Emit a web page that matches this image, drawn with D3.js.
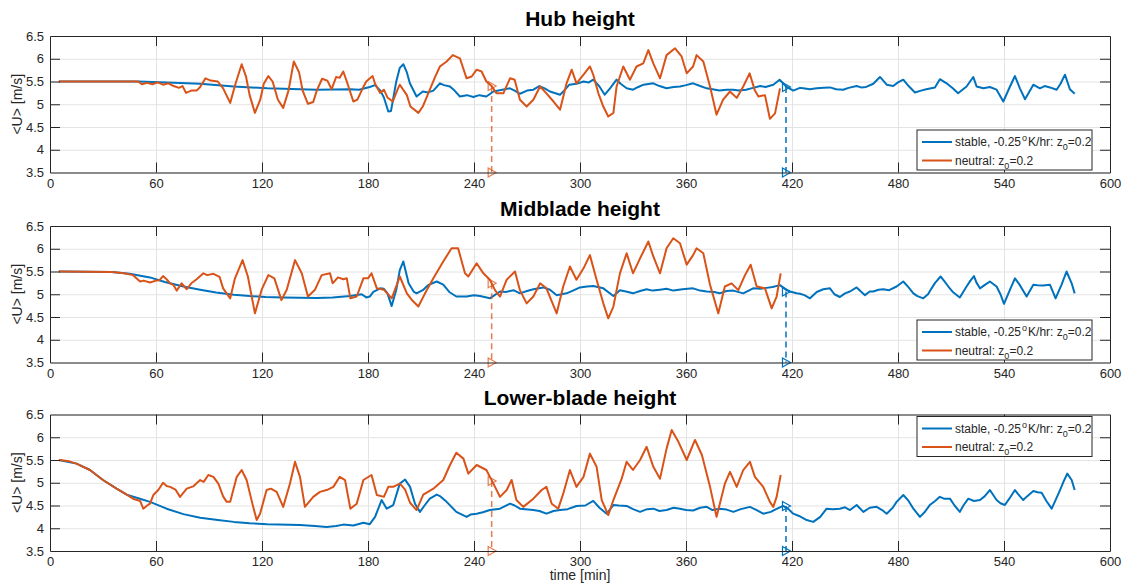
<!DOCTYPE html>
<html>
<head>
<meta charset="utf-8">
<script src="https://cdn.jsdelivr.net/npm/d3@7"></script>
<style>
    body { margin: 0; background: #fff; }
    svg text { font-family: "Liberation Sans", Arial, Helvetica, sans-serif; fill: #262626; }
</style>
</head>
<body>
<svg id="chart" width="1126" height="586"></svg>
<script>
// Values: [time (min), <U> (m/s)]
const titles = ['Hub height', 'Midblade height', 'Lower-blade height'];
const xTicks = [0, 60, 120, 180, 240, 300, 360, 420, 480, 540, 600];
const yTicks = [3.5, 4, 4.5, 5, 5.5, 6, 6.5];
const yTickLabels = ['3.5', '4', '4.5', '5', '5.5', '6', '6.5'];

const hubStable = [[5,5.5],[50,5.5],[70,5.47],[85,5.45],[104,5.39],[123,5.35],[151,5.32],[170,5.33],[175,5.32],[181,5.38],[184,5.42],[187,5.3],[189,5.15],[191.5,4.84],[193,4.85],[196,5.5],[198,5.8],[200,5.88],[202,5.7],[203.7,5.46],[207.5,5.17],[211,5.28],[214,5.26],[217,5.3],[220.7,5.46],[223,5.42],[226.4,5.39],[229,5.3],[232,5.17],[236,5.2],[239.6,5.16],[243,5.2],[247,5.17],[251,5.28],[256,5.32],[260.4,5.35],[263,5.3],[266,5.23],[270,5.3],[273.6,5.32],[277,5.4],[280,5.35],[283,5.28],[288.7,5.21],[291,5.3],[294,5.43],[298,5.45],[302,5.5],[305,5.48],[307.5,5.54],[311,5.39],[314,5.21],[317,5.35],[320.7,5.54],[323,5.45],[326.4,5.35],[330,5.32],[333,5.38],[336,5.43],[341.5,5.46],[345,5.4],[349,5.35],[353,5.38],[356.6,5.39],[360,5.42],[364,5.46],[368,5.4],[371.7,5.35],[375,5.33],[379,5.3],[383,5.32],[386.8,5.32],[390,5.3],[394,5.32],[398,5.36],[402,5.4],[405,5.38],[409.4,5.43],[413,5.54],[417,5.38],[420.7,5.3],[424.5,5.36],[426.4,5.35],[430,5.33],[434,5.35],[438,5.36],[441.5,5.37],[445,5.33],[449,5.32],[452,5.36],[456.6,5.4],[459,5.37],[462,5.38],[466,5.45],[469.8,5.6],[473.6,5.43],[477.3,5.4],[480,5.48],[483,5.54],[486,5.4],[489.6,5.26],[493,5.3],[496,5.33],[500.9,5.37],[503.7,5.55],[507.5,5.46],[511,5.35],[514,5.24],[518.8,5.39],[522.6,5.6],[524.5,5.39],[528.3,5.35],[532,5.38],[535.8,5.32],[539.6,5.06],[543.4,5.39],[546.2,5.62],[549,5.35],[551.9,5.11],[556.6,5.43],[560.3,5.35],[563,5.4],[566,5.37],[569.8,5.32],[572,5.45],[574.5,5.65],[577.3,5.33],[580,5.23]];

const hubNeutral = [[5,5.5],[50,5.5],[52,5.44],[55,5.47],[58,5.44],[61,5.48],[64,5.43],[67,5.46],[70,5.4],[73,5.36],[75,5.4],[77,5.25],[80,5.3],[83,5.3],[85,5.38],[88,5.57],[91,5.52],[95,5.5],[98,5.35],[102,5.03],[105,5.45],[108.5,5.88],[111,5.6],[113,5.2],[116,4.81],[119,5.1],[121,5.45],[123.6,5.62],[126,5.5],[129,5.1],[132,4.92],[135,5.3],[138,5.94],[141,5.7],[143,5.3],[146,5.01],[149,5.05],[151,5.3],[154,5.56],[157,5.52],[159.4,5.33],[162,5.6],[164,5.58],[166,5.72],[168,5.5],[171.7,5.06],[174,5.1],[177,5.35],[179,5.5],[182.6,5.62],[184,5.45],[186.8,5.25],[189,5.32],[191,5.15],[194,5.06],[197,5.35],[198,5.43],[202,5.2],[204,4.95],[208.5,4.81],[211,4.95],[215,5.32],[218,5.6],[220.7,5.83],[224.5,5.94],[228,6.08],[232,6.01],[235.8,5.57],[238.7,5.61],[241.5,5.76],[244.3,5.72],[247,5.5],[250,5.4],[252.8,5.24],[256.6,5.24],[260.4,5.57],[263,5.54],[266,5.1],[269.8,4.95],[273.6,5.1],[277.4,5.39],[281,5.24],[285,5.06],[288.7,4.88],[292.4,5.46],[295.3,5.76],[298,5.46],[302,5.65],[305.6,5.83],[307.5,5.65],[310.4,5.24],[313.2,4.95],[316,4.73],[318.9,4.81],[320.7,5.39],[324.5,5.83],[328.3,5.54],[332,5.83],[335.8,5.9],[338.7,6.19],[341.5,5.9],[345.3,5.57],[349,6.08],[353.8,6.23],[357.5,6.05],[360.4,5.68],[364,5.83],[366,6.08],[369.8,5.94],[373.6,5.39],[377.3,4.77],[381,5.1],[384.9,5.28],[388.7,5.14],[392.4,5.39],[396,5.68],[399,5.3],[401,5.17],[404.7,5.2],[407.5,4.68],[410.4,4.8],[413.2,5.35]];

const midStable = [[5,5.5],[35,5.49],[45,5.45],[56.6,5.37],[65,5.27],[75.5,5.17],[85,5.1],[94,5.04],[104,4.99],[113,4.96],[122,4.94],[132,4.93],[151,4.92],[160,4.93],[170,4.96],[176.4,5.0],[179,4.93],[181,4.95],[183,5.05],[187,5.13],[189,5.12],[191,5.02],[193.4,4.74],[196,5.1],[198,5.53],[200,5.72],[203,5.24],[206,5.05],[207.5,5.02],[211,5.09],[214,5.2],[218.9,5.28],[222.6,5.21],[226,5.05],[230,4.95],[235.8,4.95],[240,4.98],[243.4,4.96],[249,4.91],[254.7,5.06],[258,5.05],[262.3,5.09],[266,5.02],[270,5.07],[273.6,5.11],[279.2,5.15],[283,5.1],[286.8,4.98],[292.4,5.02],[296,5.08],[300,5.15],[304,5.17],[307.5,5.18],[313.2,5.13],[318.9,4.96],[322.6,5.09],[326,5.06],[330,5.02],[334,5.07],[337.7,5.11],[341,5.08],[345.3,5.1],[349,5.12],[352.8,5.08],[358,5.11],[364,5.13],[368,5.08],[371.7,5.06],[376,5.05],[379,5.02],[383,5.07],[386.8,5.08],[392.4,5.02],[398,5.13],[402,5.12],[405.6,5.14],[409,5.16],[413.2,5.2],[417,5.09],[418.8,5.06],[422.6,5.02],[424.5,5.01],[427,4.98],[430.2,4.91],[434,5.05],[437.7,5.11],[441.5,5.13],[444,5.0],[447.1,4.94],[450,5.02],[452.8,5.06],[456.6,5.15],[459,5.06],[461.3,4.98],[464,5.06],[466,5.06],[469,5.1],[471.7,5.11],[475,5.09],[479.2,5.17],[483,5.28],[486,5.15],[488.7,5.02],[491,4.96],[494.3,4.91],[497,5.0],[499,5.13],[501,5.25],[504.1,5.39],[506,5.3],[508.5,5.17],[511,5.05],[515,4.93],[518.8,5.17],[521,5.3],[523,5.4],[524.5,5.25],[526.4,5.13],[529,5.2],[532,5.28],[535.8,5.17],[538,5.0],[540,4.79],[543.4,5.1],[546.2,5.35],[549,5.2],[552.8,4.95],[556.6,5.21],[559,5.2],[562.2,5.19],[566,5.21],[569.2,4.91],[572.6,5.21],[575.4,5.5],[578.3,5.24],[580,5.02]];

const midNeutral = [[5,5.5],[35,5.49],[42,5.46],[47,5.42],[51,5.28],[53,5.3],[56.6,5.26],[60,5.3],[62,5.31],[64,5.4],[66,5.33],[68,5.24],[70,5.2],[71.7,5.08],[74.5,5.24],[77.4,5.11],[80,5.24],[83,5.33],[86.8,5.46],[89,5.42],[92.5,5.45],[96,5.38],[98,5.13],[102,4.91],[104.7,5.35],[109,5.75],[112,5.39],[116,4.58],[119.8,5.1],[123.6,5.42],[127,5.35],[131,4.87],[134,5.1],[138.7,5.75],[142.5,5.46],[146,4.95],[150,5.1],[153.8,5.42],[158.5,5.46],[160,5.24],[163,5.37],[166,5.33],[168,5.35],[170,4.91],[173.6,4.95],[177.4,5.35],[180,5.35],[182,5.46],[185,5.13],[189,5.1],[193.4,4.91],[197,5.28],[198,5.39],[202,5.02],[204.7,4.88],[208.5,4.73],[212.3,5.02],[217,5.35],[222.6,5.72],[227.3,6.01],[231,6.01],[234.9,5.46],[236.8,5.39],[241.5,5.68],[245.3,5.46],[249,5.32],[251.9,5.09],[254.7,4.95],[258.5,5.32],[263.2,5.5],[266,5.09],[269.8,4.8],[273.6,4.95],[277.4,5.24],[281,5.13],[286.8,4.58],[290.5,5.17],[294.3,5.61],[298,5.32],[302,5.57],[305.6,5.86],[309.4,5.32],[313.2,4.8],[316,4.47],[318.9,4.73],[322.6,5.46],[326.4,5.9],[330,5.46],[334,5.79],[338.7,6.16],[341.5,5.83],[345.3,5.46],[349,6.01],[352.8,6.23],[356.6,6.12],[360.4,5.65],[364,5.86],[366,6.01],[369.8,5.9],[373.6,5.21],[378.3,4.58],[382,5.17],[385.8,5.24],[389.6,5.09],[393.4,5.42],[396.6,5.65],[400,5.17],[404.7,5.13],[408.5,4.69],[411.3,4.95],[413.6,5.46]];

const lowStable = [[5,5.5],[15,5.42],[22.6,5.28],[30,5.06],[37.7,4.87],[43.4,4.74],[50,4.66],[56.6,4.58],[66,4.43],[75.5,4.31],[85,4.23],[95,4.18],[104,4.14],[113,4.11],[123,4.09],[141.5,4.07],[150,4.05],[156.6,4.03],[162,4.05],[166,4.08],[171.7,4.06],[177.4,4.12],[181,4.09],[184,4.25],[187.7,4.62],[190.6,4.43],[194.3,4.51],[198,4.98],[201,5.07],[203.8,4.91],[206.6,4.54],[209.4,4.36],[212,4.5],[215,4.65],[218.9,4.74],[221,4.7],[224.5,4.58],[230,4.36],[235.8,4.25],[238,4.3],[241.5,4.32],[245,4.35],[249,4.4],[254.7,4.43],[260.4,4.54],[263,4.5],[266,4.43],[273.6,4.4],[277,4.38],[281,4.32],[285,4.38],[288.7,4.4],[293,4.42],[298,4.49],[303,4.5],[307.5,4.6],[311,4.45],[315.1,4.32],[318.9,4.51],[322,4.5],[326.4,4.49],[330,4.42],[334,4.36],[338,4.42],[341.5,4.43],[345,4.38],[349,4.4],[353,4.45],[356.6,4.43],[360,4.4],[364,4.39],[368,4.45],[371.7,4.47],[375,4.4],[379,4.43],[383,4.41],[386.8,4.36],[391,4.42],[396.2,4.47],[400,4.4],[403.7,4.32],[408,4.36],[411,4.42],[415,4.49],[418,4.42],[420.7,4.32],[424,4.27],[428.3,4.18],[432,4.14],[436,4.25],[439.6,4.43],[443,4.42],[447.1,4.43],[450,4.46],[452.8,4.4],[456.6,4.51],[460.4,4.36],[464,4.45],[467.9,4.47],[471,4.4],[473.6,4.32],[477,4.45],[479.2,4.58],[483,4.73],[486,4.6],[488.7,4.43],[492.4,4.25],[495,4.35],[498,4.51],[501,4.6],[503.7,4.69],[506,4.65],[509.4,4.65],[512,4.5],[515,4.36],[517,4.5],[519.8,4.65],[523,4.6],[526.4,4.62],[529,4.7],[532,4.84],[535.8,4.62],[538,4.55],[540.5,4.51],[543,4.65],[546.2,4.84],[548,4.75],[550.9,4.62],[553,4.7],[556.6,4.82],[559,4.79],[561.3,4.78],[564,4.6],[567,4.43],[569,4.6],[571.7,4.84],[574,5.05],[575.8,5.2],[578.3,5.06],[580,4.84]];

const lowNeutral = [[5,5.5],[10,5.48],[15,5.42],[22.6,5.28],[30,5.06],[37.7,4.87],[43.4,4.74],[47,4.65],[51,4.6],[52.8,4.43],[55,4.5],[56.6,4.54],[58.5,4.73],[61.3,4.84],[64,5.0],[66,4.93],[68,4.91],[71,4.85],[73.6,4.69],[77.4,4.87],[81,4.92],[85,5.06],[87,5.02],[89.6,5.17],[92.5,5.13],[95.3,4.98],[98,4.7],[100,4.58],[102,4.58],[105.7,5.13],[108.5,5.28],[111.3,5.06],[115,4.47],[117,4.18],[118.9,4.32],[122.6,4.84],[125,4.87],[128.3,4.8],[132,4.47],[135.8,4.98],[138.7,5.46],[141.5,5.13],[144.3,4.47],[149,4.69],[152.8,4.8],[156.6,4.84],[160.4,4.91],[164,5.13],[167,5.06],[170,4.43],[173.6,4.54],[177.4,5.06],[182,5.17],[185,4.73],[189,4.69],[191.5,4.91],[194.3,4.91],[198,4.98],[201,4.85],[203.8,4.56],[207.5,4.4],[211.3,4.74],[217,4.87],[222.6,5.06],[226.4,5.39],[230,5.66],[234,5.53],[236.8,5.2],[241.5,5.39],[247,5.28],[251,4.98],[254.7,4.69],[258.5,4.84],[261.3,5.06],[264,4.62],[267.9,4.47],[273.6,4.65],[278.3,4.84],[281,4.91],[284,4.54],[287.7,4.43],[290.5,4.76],[294.3,5.28],[298,4.91],[302,5.13],[305.6,5.64],[309.4,5.35],[312.3,4.62],[316,4.29],[318.9,4.62],[323.6,5.09],[326.4,5.46],[330,5.28],[334,5.5],[337.7,5.79],[341.5,5.35],[345.3,5.09],[349,5.75],[351.9,6.16],[355.7,5.9],[360.4,5.5],[365.1,5.94],[369,5.61],[373.6,4.91],[377.3,4.25],[382,4.98],[384.9,5.24],[388.7,4.91],[392.4,5.28],[396.2,5.46],[399,5.13],[403.7,4.91],[407.5,4.58],[409.4,4.47],[411.3,4.69],[413.6,5.17]];

// vertical drop markers: [neutral, stable] times and the <U> at the top of each drop
const dropTimes = [250, 416.6];
const neutralDropU = [5.4, 5.24, 5.04];
const stableDropU = [5.38, 5.06, 4.49];

const stableSeries = [hubStable, midStable, lowStable];
const neutralSeries = [hubNeutral, midNeutral, lowNeutral];

const BLUE = '#0072BD';
const ORANGE = '#D95319';
const AXIS = '#262626';

const plotLeft = 50, plotRight = 1110, plotH = 136.5;
const panelTops = [36, 226, 414.5];
const legendTops = [130, 320, 416.5];
const legendLeft = 917, legendW = 175, legendH = 40;

const svg = d3.select('#chart');
const x = d3.scaleLinear().domain([0, 600]).range([plotLeft, plotRight]);

function drawPanel(i) {
    const top = panelTops[i];
    const bottom = top + plotH;
    const y = d3.scaleLinear().domain([3.5, 6.5]).range([bottom, top]);
    const g = svg.append('g').attr('class', 'panel');

    // grid
    g.append('g')
        .attr('transform', `translate(0,${bottom})`)
        .call(d3.axisBottom(x).tickValues(xTicks).tickSize(-plotH).tickFormat(''))
        .call(s => s.select('.domain').remove())
        .selectAll('line').attr('stroke', '#e3e3e3').attr('stroke-width', 1);
    g.append('g')
        .attr('transform', `translate(${plotLeft},0)`)
        .call(d3.axisLeft(y).tickValues(yTicks).tickSize(-(plotRight - plotLeft)).tickFormat(''))
        .call(s => s.select('.domain').remove())
        .selectAll('line').attr('stroke', '#e3e3e3').attr('stroke-width', 1);

    // data lines
    const line = d3.line().x(d => x(d[0])).y(d => y(d[1]));
    g.append('path').datum(stableSeries[i])
        .attr('d', line).attr('fill', 'none')
        .attr('stroke', BLUE).attr('stroke-width', 2).attr('stroke-linejoin', 'round');
    g.append('path').datum(neutralSeries[i])
        .attr('d', line).attr('fill', 'none')
        .attr('stroke', ORANGE).attr('stroke-width', 2).attr('stroke-linejoin', 'round');

    // drop markers
    const drops = [
        { t: dropTimes[0], u: neutralDropU[i], color: ORANGE, op: 0.75 },
        { t: dropTimes[1], u: stableDropU[i], color: BLUE, op: 1 }
    ];
    const tri = 'M-3.5,-4.5L4.5,0L-3.5,4.5Z';
    drops.forEach(d => {
        g.append('line')
            .attr('x1', x(d.t)).attr('x2', x(d.t))
            .attr('y1', y(d.u)).attr('y2', y(3.5))
            .attr('stroke', d.color).attr('stroke-opacity', d.op)
            .attr('stroke-width', 1.5).attr('stroke-dasharray', '6,4');
        [d.u, 3.5].forEach(v => {
            g.append('path').attr('d', tri)
                .attr('transform', `translate(${x(d.t)},${y(v)})`)
                .attr('fill', 'none').attr('stroke', d.color)
                .attr('stroke-opacity', d.op).attr('stroke-width', 1.2);
        });
    });

    // axes with inward ticks on all four sides
    const bottomAxis = g.append('g').attr('transform', `translate(0,${bottom})`)
        .call(d3.axisBottom(x).tickValues(xTicks).tickSizeInner(-10).tickSizeOuter(0).tickPadding(6));
    const topAxis = g.append('g').attr('transform', `translate(0,${top})`)
        .call(d3.axisTop(x).tickValues(xTicks).tickSizeInner(-10).tickSizeOuter(0).tickFormat(''));
    const leftAxis = g.append('g').attr('transform', `translate(${plotLeft},0)`)
        .call(d3.axisLeft(y).tickValues(yTicks).tickSizeInner(-10).tickSizeOuter(0).tickPadding(6)
            .tickFormat((d, k) => yTickLabels[k]));
    const rightAxis = g.append('g').attr('transform', `translate(${plotRight},0)`)
        .call(d3.axisRight(y).tickValues(yTicks).tickSizeInner(-10).tickSizeOuter(0).tickFormat(''));
    [bottomAxis, topAxis, leftAxis, rightAxis].forEach(a => {
        a.selectAll('line').attr('stroke', AXIS);
        a.select('.domain').attr('stroke', AXIS);
        a.selectAll('text').attr('font-size', 13).style('fill', AXIS);
    });
    // edge ticks at the corners look doubled in matlab; drop first/last grid ticks
    bottomAxis.selectAll('.tick line').filter(d => d === 0 || d === 600).remove();
    topAxis.selectAll('.tick line').filter(d => d === 0 || d === 600).remove();
    leftAxis.selectAll('.tick line').filter(d => d === 3.5 || d === 6.5).remove();
    rightAxis.selectAll('.tick line').filter(d => d === 3.5 || d === 6.5).remove();

    // title
    svg.append('text')
        .attr('x', (plotLeft + plotRight) / 2).attr('y', top - 10)
        .attr('text-anchor', 'middle')
        .attr('font-size', 21).attr('font-weight', 'bold')
        .style('fill', '#000')
        .text(titles[i]);

    // y label
    svg.append('text')
        .attr('transform', `translate(22,${(top + bottom) / 2}) rotate(-90)`)
        .attr('text-anchor', 'middle')
        .attr('font-size', 14)
        .text('<U> [m/s]');

    // legend
    const lg = svg.append('g').attr('transform', `translate(${legendLeft},${legendTops[i]})`);
    lg.append('rect').attr('width', legendW).attr('height', legendH)
        .attr('fill', '#fff').attr('stroke', AXIS).attr('stroke-width', 1);
    const rows = [{ color: BLUE, kind: 'stable' }, { color: ORANGE, kind: 'neutral' }];
    rows.forEach((r, k) => {
        const ry = 12 + k * 18.5;
        lg.append('line').attr('x1', 5).attr('x2', 35).attr('y1', ry).attr('y2', ry)
            .attr('stroke', r.color).attr('stroke-width', 2);
        const t = lg.append('text').attr('x', 38).attr('y', ry + 4).attr('font-size', 12);
        if (r.kind === 'stable') {
            t.append('tspan').text('stable, -0.25');
            t.append('tspan').attr('dx', 1).attr('dy', -5).attr('font-size', 9).text('o');
            t.append('tspan').attr('dx', 1).attr('dy', 5).text('K/hr: z');
        } else {
            t.append('tspan').text('neutral: z');
        }
        t.append('tspan').attr('dy', 4).attr('font-size', 9).text('0');
        t.append('tspan').attr('dy', -4).text('=0.2');
    });
}

titles.forEach((_, i) => drawPanel(i));

// x label
svg.append('text')
    .attr('x', (plotLeft + plotRight) / 2).attr('y', 580)
    .attr('text-anchor', 'middle')
    .attr('font-size', 14)
    .text('time [min]');
</script>
</body>
</html>
